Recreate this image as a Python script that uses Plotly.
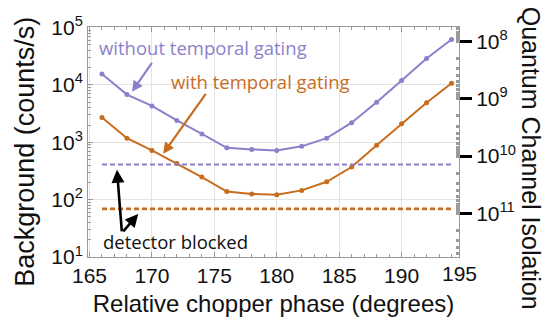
import numpy as np
import plotly.graph_objects as go

phase = [166, 168, 170, 172, 174, 176, 178, 180, 182, 184, 186, 188, 190, 192, 194]
without_gating = [15500, 6800, 4300, 2400, 1400, 800, 750, 720, 850, 1180, 2200, 5000, 12000, 29000, 62000]
with_gating = [2700, 1180, 720, 425, 248, 138, 126, 122, 145, 205, 370, 890, 2100, 4900, 10700]
blocked_phase = [166, 194]
blocked_without = [410, 410]
blocked_with = [69, 69]
iso_scale = 10 ** 12.76  # isolation = scale / background

bg_exp = [1, 2, 3, 4, 5]
iso_exp = [8, 9, 10, 11]

purple = '#8e7fca'
orange = '#c86c1e'
frame = '#9a9a9a'
grid = '#e4e4e4'

fig = go.Figure()
#measured curves
fig.add_trace(go.Scatter(
    x=phase, y=without_gating, mode='lines+markers',
    line=dict(color=purple, width=2), marker=dict(size=5, color=purple),
    showlegend=False
))
fig.add_trace(go.Scatter(
    x=phase, y=with_gating, mode='lines+markers',
    line=dict(color=orange, width=2), marker=dict(size=5, color=orange),
    showlegend=False
))
#detector blocked levels
fig.add_trace(go.Scatter(
    x=blocked_phase, y=blocked_without, mode='lines',
    line=dict(color=purple, width=1.8, dash='5px,3px'), showlegend=False
))
fig.add_trace(go.Scatter(
    x=blocked_phase, y=blocked_with, mode='lines',
    line=dict(color=orange, width=2.6, dash='5px,3px'), showlegend=False
))
#invisible trace to carry the isolation axis
fig.add_trace(go.Scatter(
    x=phase, y=[iso_scale / v for v in without_gating], yaxis='y2',
    mode='lines', line=dict(width=0, color='rgba(0,0,0,0)'),
    hoverinfo='skip', showlegend=False
))

sans = 'Liberation Sans, Arial, sans-serif'
tick_font = dict(family=sans, size=21, color='#111')
title_font = dict(family=sans, size=24, color='#111')
text_font = 'Open Sans, sans-serif'

# page body has an 8px margin, so margins are shifted to keep the plot box in place
fig.update_layout(
    width=555, height=331,
    margin=dict(l=80, r=104, t=19, b=82),
    plot_bgcolor='white', paper_bgcolor='white',
    xaxis=dict(
        range=[164.88, 194.6], dtick=5, tick0=165, automargin=False,
        showline=True, linecolor=frame, linewidth=1, mirror='ticks',
        ticks='inside', ticklen=5, tickcolor=frame,
        showgrid=True, gridcolor=grid, zeroline=False,
        minor=dict(dtick=1, ticks='inside', ticklen=3, tickcolor=frame, showgrid=False),
        tickfont=tick_font,
        title=dict(text='Relative chopper phase (degrees)', font=title_font, standoff=8)
    ),
    yaxis=dict(
        type='log', range=[1, 5.01], automargin=False,
        tickvals=[10 ** e for e in bg_exp],
        ticktext=['10<sup>%d</sup>' % e for e in bg_exp],
        showline=True, linecolor=frame, linewidth=1,
        ticks='inside', ticklen=5, tickcolor=frame,
        showgrid=True, gridcolor=grid, zeroline=False,
        minor=dict(dtick='D1', ticks='inside', ticklen=3, tickcolor=frame, showgrid=False),
        tickfont=tick_font
    ),
    yaxis2=dict(
        type='log', overlaying='y', side='right', automargin=False,
        range=[np.log10(iso_scale) - 1, np.log10(iso_scale) - 5.01],
        tickvals=[10 ** e for e in iso_exp],
        ticktext=['10<sup>%d</sup>' % e for e in iso_exp],
        showline=True, linecolor=frame, linewidth=1,
        ticks='outside', ticklen=12, tickwidth=3, tickcolor='black',
        showgrid=False, zeroline=False,
        minor=dict(dtick='D1', ticks='inside', ticklen=3, tickcolor=frame, showgrid=False),
        tickfont=tick_font
    ),
    annotations=[
        dict(text='Background (counts/s)', xref='paper', yref='paper', x=-0.17, y=0.457,
             textangle=-90, showarrow=False, xanchor='center', yanchor='middle',
             font=dict(family=sans, size=27, color='#111')),
        dict(text='Quantum Channel Isolation', xref='paper', yref='paper', x=1.195, y=0.43,
             textangle=90, showarrow=False, xanchor='center', yanchor='middle',
             font=dict(family=sans, size=25, color='#111')),
        # last x tick label sits at the frame edge
        dict(text='195', xref='paper', yref='paper', x=1.0, y=0, xanchor='center',
             yanchor='top', yshift=-3, showarrow=False, font=tick_font),
        dict(text='without temporal gating', x=165.6, y=4.65, xanchor='left', yanchor='middle',
             showarrow=False, font=dict(family=text_font, size=18.5, color=purple)),
        dict(text='with temporal gating', x=171.4, y=4.06, xanchor='left', yanchor='middle',
             showarrow=False, font=dict(family=text_font, size=18.5, color=orange)),
        dict(text='detector blocked', x=165.9, y=1.27, xanchor='left', yanchor='middle',
             showarrow=False, font=dict(family=text_font, size=18.5, color='#111')),
        #arrows
        dict(x=168.4, y=3.88, ax=170.08, ay=4.41, xref='x', yref='y', axref='x', ayref='y',
             text='', showarrow=True, arrowhead=2, arrowsize=1, arrowwidth=2.2, arrowcolor=purple),
        dict(x=170.9, y=2.80, ax=174.4, ay=3.87, xref='x', yref='y', axref='x', ayref='y',
             text='', showarrow=True, arrowhead=2, arrowsize=1, arrowwidth=2.2, arrowcolor=orange),
        dict(x=167.2, y=2.52, ax=167.6, ay=1.42, xref='x', yref='y', axref='x', ayref='y',
             text='', showarrow=True, arrowhead=2, arrowsize=1, arrowwidth=2.6, arrowcolor='black'),
        dict(x=168.9, y=1.75, ax=167.6, ay=1.42, xref='x', yref='y', axref='x', ayref='y',
             text='', showarrow=True, arrowhead=2, arrowsize=1, arrowwidth=2.6, arrowcolor='black'),
    ]
)

fig.write_html('out.html')
